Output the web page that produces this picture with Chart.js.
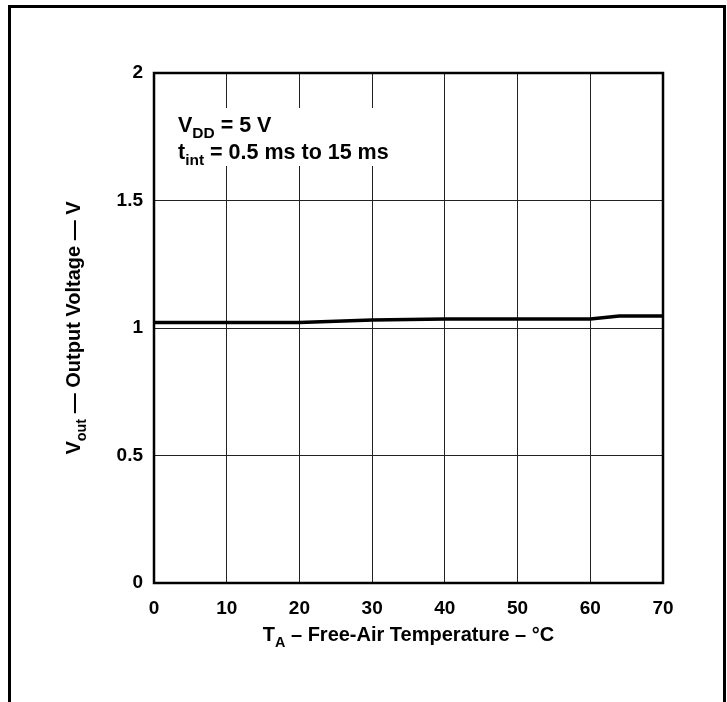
<!DOCTYPE html>
<html>
<head>
<meta charset="utf-8">
<script src="https://cdn.jsdelivr.net/npm/chart.js@4.4.1/dist/chart.umd.min.js"></script>
<style>
  html, body { margin: 0; padding: 0; background: #fff; }
  #wrap { width: 727px; height: 702px; }
</style>
</head>
<body>
<div id="wrap"><canvas id="chart" width="727" height="702"></canvas></div>
<script>
// values
var temps = [0, 10, 20, 30, 40, 50, 60, 64, 70];
var vout  = [1.022, 1.022, 1.022, 1.031, 1.035, 1.035, 1.035, 1.047, 1.047];
var xTicks = [0, 10, 20, 30, 40, 50, 60, 70];
var yTicks = [0, 0.5, 1, 1.5, 2];

var FONT = "'Liberation Sans', Arial, Helvetica, sans-serif";

// draws text made of pieces, some of them subscript
function richText(ctx, parts, x, y, size, align) {
  var w = 0;
  parts.forEach(function (p) {
    ctx.font = 'bold ' + (p.sub ? size * 0.72 : size) + 'px ' + FONT;
    w += ctx.measureText(p.t).width;
  });
  var cx = align === 'center' ? x - w / 2 : x;
  parts.forEach(function (p) {
    ctx.font = 'bold ' + (p.sub ? size * 0.72 : size) + 'px ' + FONT;
    ctx.fillText(p.t, cx, p.sub ? y + size * 0.28 : y);
    cx += ctx.measureText(p.t).width;
  });
}

var frame = {
  id: 'frame',
  beforeDraw: function (chart) {
    var ctx = chart.ctx;
    ctx.save();
    ctx.fillStyle = '#fff';
    ctx.fillRect(0, 0, chart.width, chart.height);
    ctx.strokeStyle = '#000';
    ctx.lineWidth = 3;
    ctx.beginPath();
    ctx.moveTo(9.5, 710);
    ctx.lineTo(9.5, 6.5);
    ctx.lineTo(724.5, 6.5);
    ctx.lineTo(724.5, 710);
    ctx.stroke();
    ctx.restore();
  },
  beforeDatasetsDraw: function (chart) {
    var ctx = chart.ctx, a = chart.chartArea;
    ctx.save();
    // white box behind the note
    ctx.fillStyle = '#fff';
    ctx.fillRect(162, 108, 236, 58);
    ctx.strokeStyle = '#000';
    ctx.lineWidth = 2.5;
    ctx.strokeRect(a.left, a.top, a.right - a.left, a.bottom - a.top);
    ctx.fillStyle = '#000';
    ctx.textBaseline = 'alphabetic';
    ctx.textAlign = 'left';
    richText(ctx, [{t: 'V'}, {t: 'DD', sub: true}, {t: ' = 5 V'}], 178, 132, 21.5);
    richText(ctx, [{t: 't'}, {t: 'int', sub: true}, {t: ' = 0.5 ms to 15 ms'}], 178, 159, 21.5);
    // axis titles
    richText(ctx, [{t: 'T'}, {t: 'A', sub: true}, {t: ' \u2013 Free-Air Temperature \u2013 \u00B0C'}],
      (a.left + a.right) / 2, 641, 20, 'center');
    ctx.translate(80, (a.top + a.bottom) / 2);
    ctx.rotate(-Math.PI / 2);
    richText(ctx, [{t: 'V'}, {t: 'out', sub: true}, {t: ' \u2014 Output Voltage \u2014 V'}], 0, 0, 20, 'center');
    ctx.restore();
  }
};

var points = temps.map(function (t, i) { return {x: t, y: vout[i]}; });

new Chart(document.getElementById('chart'), {
  type: 'line',
  data: {
    datasets: [{
      data: points,
      borderColor: '#000',
      borderWidth: 3.5,
      pointRadius: 0,
      tension: 0,
      fill: false
    }]
  },
  options: {
    responsive: false,
    animation: false,
    layout: { padding: { left: 0, top: 73, right: 64, bottom: 0 } },
    plugins: { legend: { display: false }, tooltip: { enabled: false } },
    scales: {
      x: {
        type: 'linear',
        min: 0, max: 70,
        afterBuildTicks: function (s) { s.ticks = xTicks.map(function (v) { return {value: v}; }); },
        afterFit: function (s) { s.height = 702 - 583; },
        grid: { color: '#222', lineWidth: 1, drawTicks: false },
        border: { display: false },
        ticks: { color: '#000', padding: 14, maxRotation: 0, font: { family: FONT, size: 19, weight: 'bold' } }
      },
      y: {
        min: 0, max: 2,
        afterBuildTicks: function (s) { s.ticks = yTicks.map(function (v) { return {value: v}; }); },
        afterFit: function (s) { s.width = 154; },
        grid: { color: '#222', lineWidth: 1, drawTicks: false },
        border: { display: false },
        ticks: {
          color: '#000', padding: 11,
          font: { family: FONT, size: 19, weight: 'bold' },
          callback: function (v) { return String(v); }
        }
      }
    }
  },
  plugins: [frame]
});
</script>
</body>
</html>
